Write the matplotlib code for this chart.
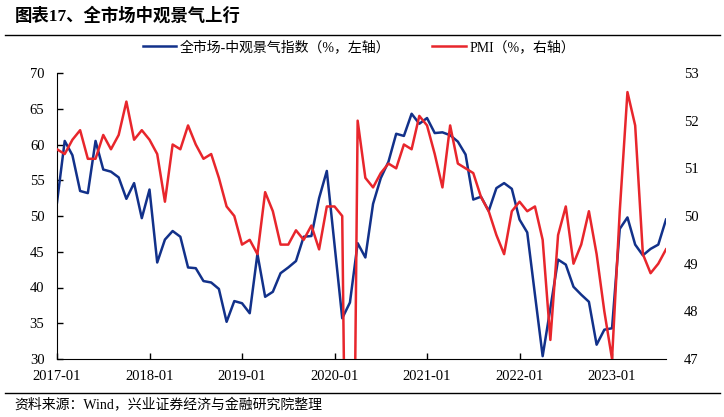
import matplotlib.pyplot as plt
from matplotlib.lines import Line2D

# ============================================
# 全市场中观景气指数 vs PMI (monthly)
# ============================================

months = list(range(80))  # 0 = 2017-01 position on the axis
tick_pos = [0, 12, 24, 36, 48, 60, 72]
tick_labels = ["2017-01", "2018-01", "2019-01", "2020-01", "2021-01", "2022-01", "2023-01"]

# 全市场-中观景气指数 (left axis, %)
meso = [51.9, 60.5, 58.5, 53.5, 53.2, 60.5, 56.5, 56.2, 55.4, 52.4, 54.6, 49.7,
        53.7, 43.5, 46.7, 47.9, 47.1, 42.8, 42.7, 40.9, 40.7, 39.8, 35.2, 38.1,
        37.8, 36.4, 44.7, 38.7, 39.4, 42.0, 42.8, 43.7, 47.1, 47.2, 52.5, 56.3,
        46.0, 35.7, 37.9, 46.2, 44.2, 51.7, 55.3, 57.6, 61.5, 61.2, 64.3, 62.9,
        63.7, 61.6, 61.7, 61.3, 60.4, 58.6, 52.3, 52.7, 50.7, 53.9, 54.6, 53.8,
        49.5, 47.7, 39.0, 30.4, 37.1, 43.9, 43.2, 40.1, 39.0, 38.0, 32.0, 34.1,
        34.3, 48.2, 49.8, 46.0, 44.5, 45.4, 46.0, 49.5]

# PMI (right axis, %)
pmi = [51.4,
       51.3, 51.6, 51.8, 51.2, 51.2, 51.7, 51.4, 51.7, 52.4, 51.6, 51.8, 51.6,
       51.3, 50.3, 51.5, 51.4, 51.9, 51.5, 51.2, 51.3, 50.8, 50.2, 50.0, 49.4,
       49.5, 49.2, 50.5, 50.1, 49.4, 49.4, 49.7, 49.5, 49.8, 49.3, 50.2, 50.2,
       50.0, 35.7, 52.0, 50.8, 50.6, 50.9, 51.1, 51.0, 51.5, 51.4, 52.1, 51.9,
       51.3, 50.6, 51.9, 51.1, 51.0, 50.9, 50.4, 50.1, 49.6, 49.2, 50.1, 50.3,
       50.1, 50.2, 49.5, 47.4, 49.6, 50.2, 49.0, 49.4, 50.1, 49.2, 48.0, 47.0,
       50.1, 52.6, 51.9, 49.2, 48.8, 49.0, 49.3]

plt.rcParams['font.family'] = ['Liberation Serif', 'Noto Sans CJK SC']

W, H = 724, 417
fig = plt.figure(figsize=(W / 100, H / 100), dpi=100)
ax = fig.add_axes([57 / W, 1 - 359 / H, (666 - 57) / W, (359 - 73) / H])
ax2 = ax.twinx()

l1, = ax.plot(months, meso, color="#12318a", lw=1.8, label="全市场-中观景气指数（%，左轴）")
l2, = ax2.plot(months, pmi, color="#e8262c", lw=1.8, label="PMI（%，右轴）")

ax.set_xlim(0, 79)
ax.set_ylim(30, 70)
ax.set_yticks(range(30, 71, 5))
ax2.set_ylim(47, 53)
ax2.set_yticks(range(47, 54))
ax.set_xticks(tick_pos)
ax.set_xticklabels(tick_labels)

for a in (ax, ax2):
    for s in ("top", "right"):
        a.spines[s].set_visible(False)
ax2.spines["left"].set_visible(False)
ax2.spines["bottom"].set_visible(False)
ax.tick_params(axis="both", direction="in", length=4, width=1, labelsize=10.5)
ax.tick_params(axis="x", pad=8)
ax.tick_params(axis="y", pad=9)
ax2.tick_params(axis="y", length=0, pad=13, labelsize=10.5)

fig.legend(handles=[l1, l2], loc="center", bbox_to_anchor=(359 / W, 1 - 47 / H),
           ncol=2, frameon=False, fontsize=10, handlelength=2.4,
           handletextpad=0.3, columnspacing=3.0)

# title, separator lines, source
fig.text(15 / W, 1 - 16 / H, "图表17、全市场中观景气上行", fontsize=12.5,
         fontweight="bold", va="center", ha="left")
fig.add_artist(Line2D([5 / W, 720 / W], [1 - 35 / H] * 2, color="black", lw=1))
fig.add_artist(Line2D([5 / W, 720 / W], [1 - 393 / H] * 2, color="black", lw=1))
fig.text(14 / W, 1 - 405 / H, "资料来源：Wind，兴业证券经济与金融研究院整理",
         fontsize=10, va="center", ha="left")

fig.savefig("out.png", dpi=100)
